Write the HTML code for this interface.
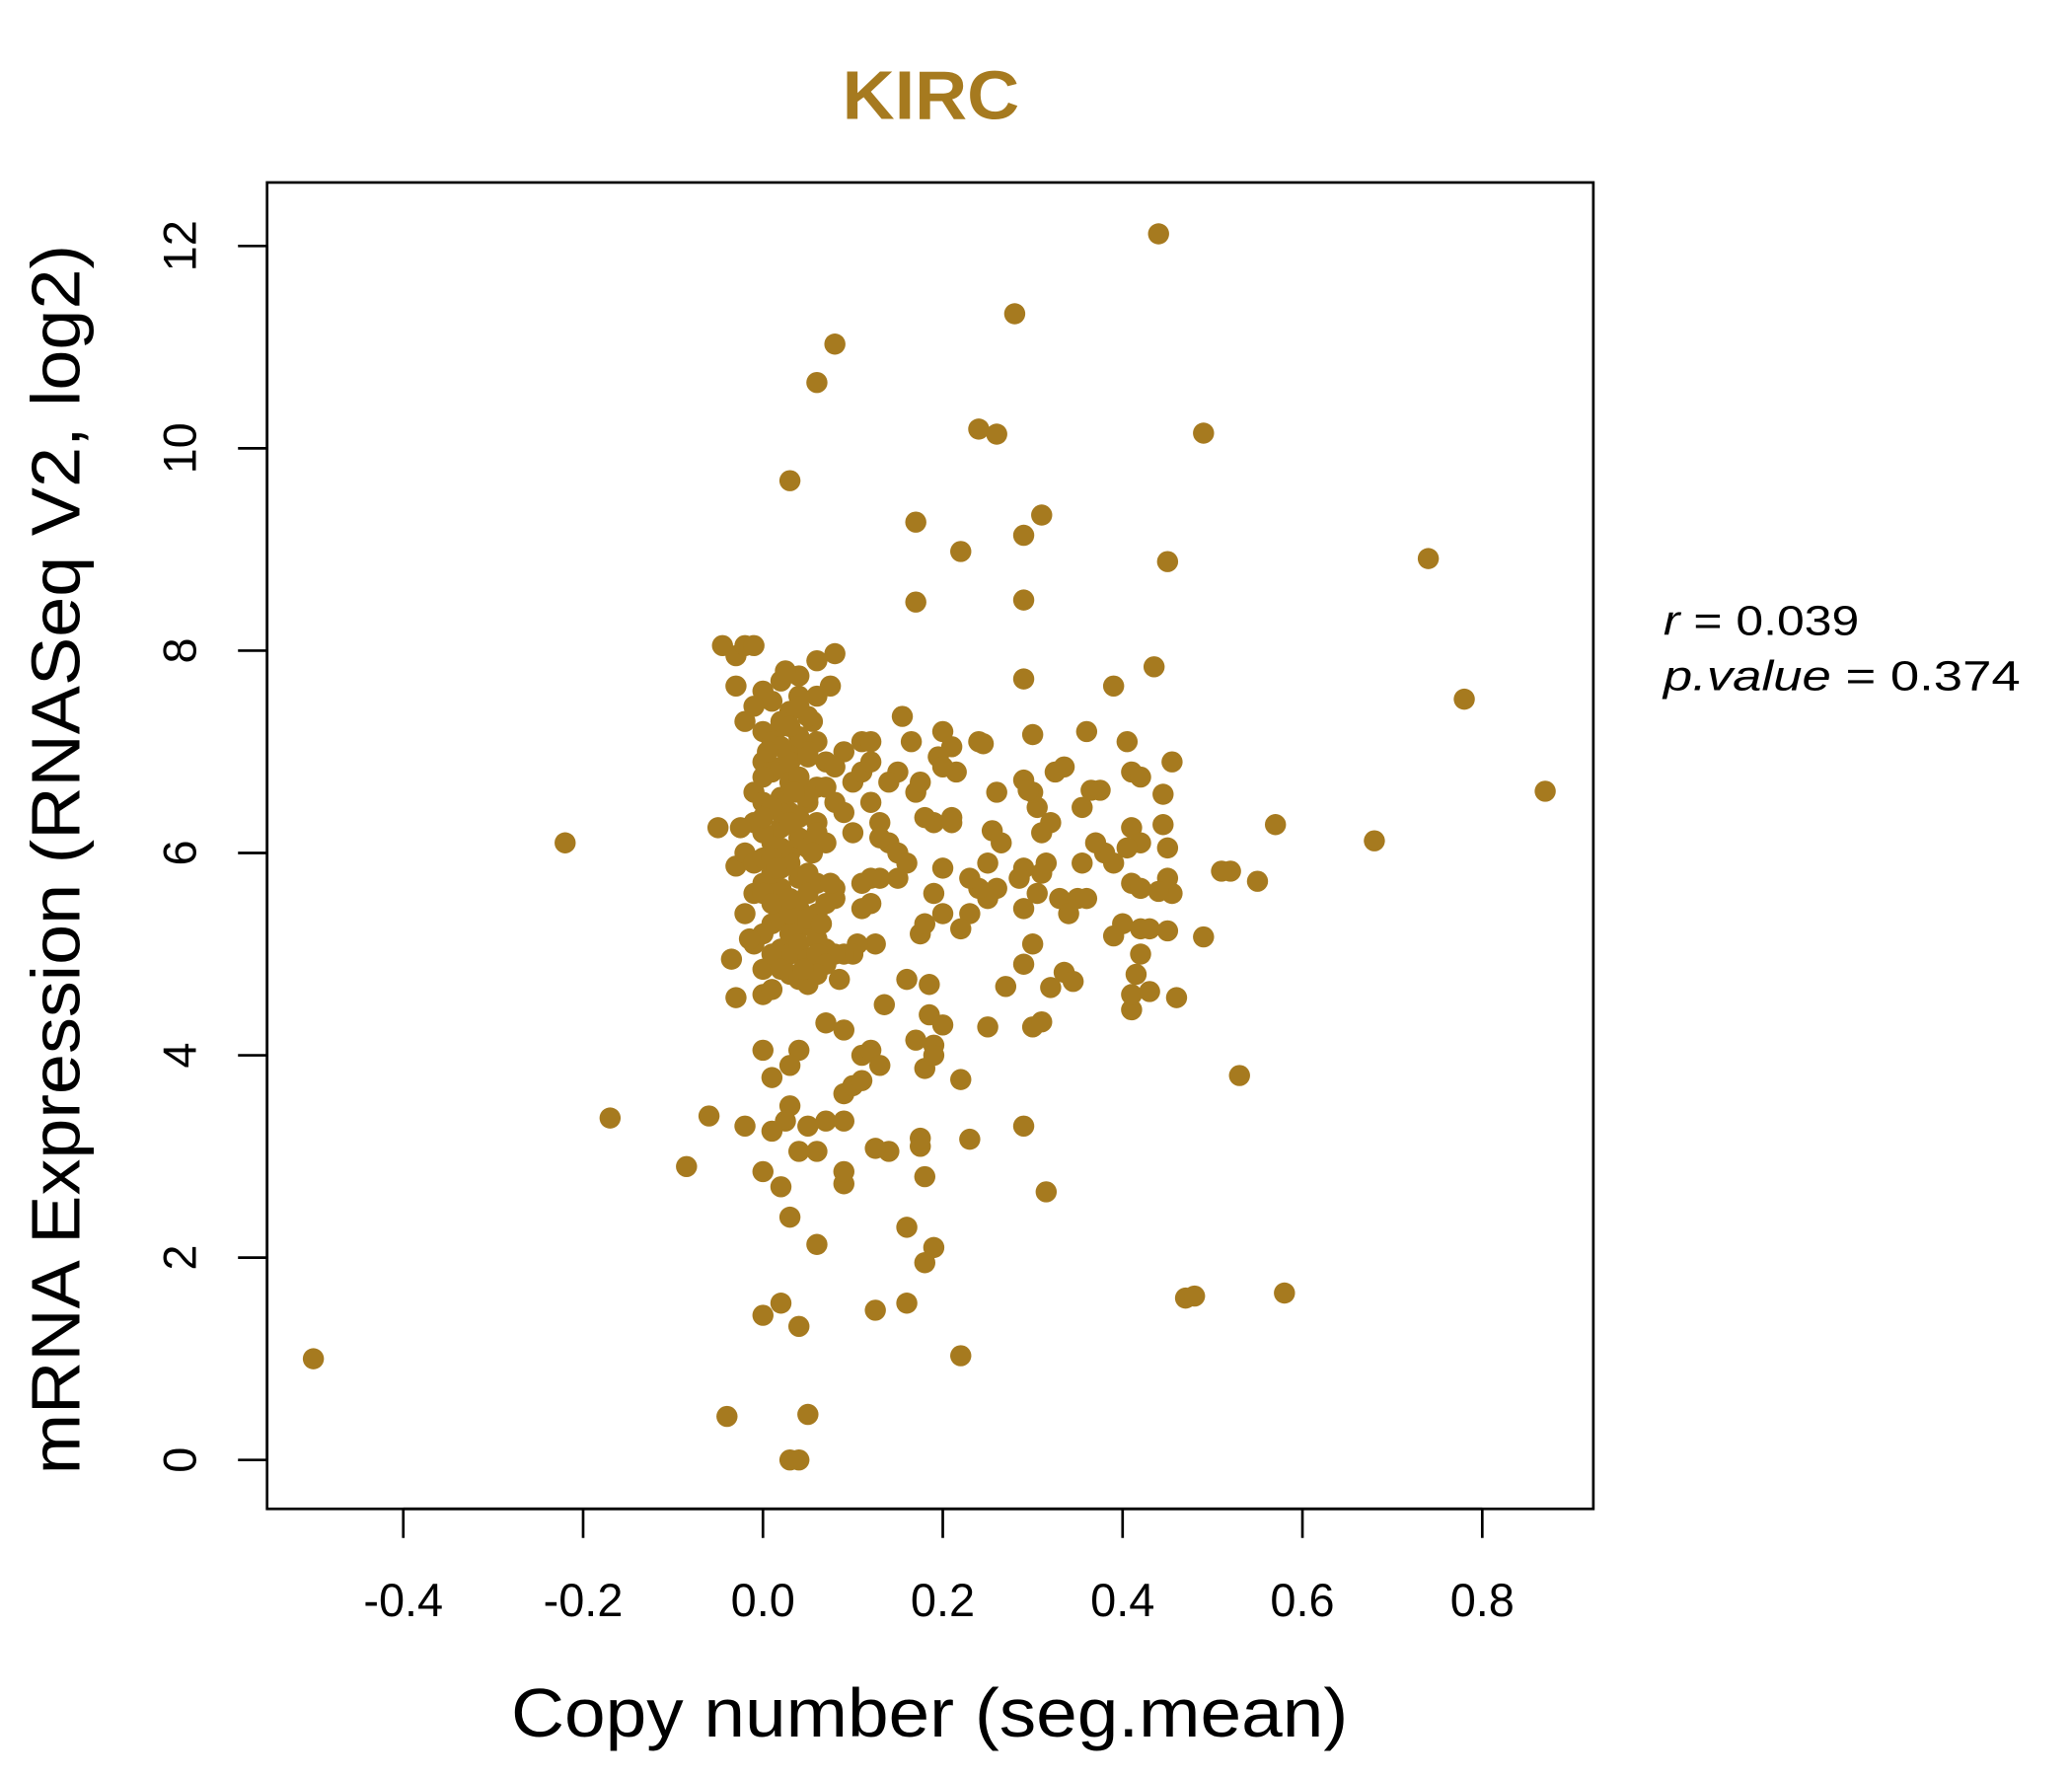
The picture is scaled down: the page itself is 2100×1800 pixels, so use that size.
<!DOCTYPE html>
<html><head><meta charset="utf-8"><style>
html,body{margin:0;padding:0;background:#fff;}
svg{display:block;}
text{font-family:"Liberation Sans",sans-serif;}
</style></head><body>
<svg id="chart" width="2100" height="1800" viewBox="0 0 1567 1343" preserveAspectRatio="none" xmlns="http://www.w3.org/2000/svg">
<rect width="1567" height="1343" fill="#fff"/>
<text x="704" y="90" text-anchor="middle" font-size="52" font-weight="bold" fill="#A67A1F" textLength="134" lengthAdjust="spacingAndGlyphs">KIRC</text>
<rect x="202" y="138" width="1003" height="1003" fill="none" stroke="#000" stroke-width="2"/>
<g id="xaxis"></g>
<g id="yaxis"></g>
<g id="points"></g>
<text x="703" y="1313" text-anchor="middle" font-size="52" textLength="633" lengthAdjust="spacingAndGlyphs">Copy number (seg.mean)</text>
<text transform="translate(60,650) rotate(-90)" text-anchor="middle" font-size="52" textLength="930" lengthAdjust="spacingAndGlyphs">mRNA Expression (RNASeq V2, log2)</text>
<text x="1258" y="480" font-size="32" textLength="148" lengthAdjust="spacingAndGlyphs"><tspan font-style="italic">r</tspan> = 0.039</text>
<text x="1258" y="522" font-size="32" textLength="270" lengthAdjust="spacingAndGlyphs"><tspan font-style="italic">p.value</tspan> = 0.374</text>
</svg>
<script>
const xTicks = [-0.4,-0.2,0.0,0.2,0.4,0.6,0.8];
const xTickLabels = ["-0.4","-0.2","0.0","0.2","0.4","0.6","0.8"];
const yTicks = [0,2,4,6,8,10,12];
const yTickLabels = ["0","2","4","6","8","10","12"];
const copyNumber = [-0.5,-0.22,-0.17,-0.085,-0.06,-0.05,-0.04,-0.035,-0.03,-0.03,-0.045,-0.03,-0.02,-0.01,-0.03,-0.02,0,0,0,0.02,0.04,0.05,0.03,0.04,0.03,0.02,0.06,0.03,0.06,0.08,0.28,0.44,0.24,0.26,0.49,0.17,0.22,0.29,0.31,0.45,0.74,0.17,0.29,0.78,0.87,0.68,0.57,0.55,0.52,0.51,0.53,0.58,0.47,0.48,0.22,0.16,0.125,0.18,0.19,0.16,0.315,0.29,0.23,0.18,0.175,0.175,0.14,0.125,0.09,0.09,0.06,0.05,0.07,0.09,0.04,0.03,0.025,0.01,0.04,0.03,0.01,0.09,0.1,0.11,0.11,0.12,0.13,0.18,0.19,0.19,0.17,0.185,0.2,0.22,0.25,0.3,0.31,0.27,0.29,0.32,0.335,0.345,0.4,0.39,0.41,0.41,0.415,0.42,0.43,0.46,0.42,0.43,0.45,0.49,0.455,0.45,0.44,0.41,0.42,0.45,0.445,0.445,0.455,0.435,0.39,0.405,0.41,0.42,0.41,0.42,0.405,0.39,0.38,0.37,0.375,0.365,0.355,0.36,0.335,0.325,0.32,0.31,0.305,0.3,0.29,0.295,0.3,0.29,0.26,0.265,0.255,0.25,0.26,0.25,0.24,0.23,0.23,0.22,0.2,0.2,0.19,0.19,0.195,0.2,0.21,0.215,0.2,0.21,0.21,0.24,0.245,0.18,0.17,0.175,0.165,0.155,0.15,0.14,0.14,0.15,0.16,0.15,0.13,0.12,0.11,0.12,0.11,0.125,0.105,0.1,0.09,0.13,0.13,0.12,0.1,0.1,0.11,0.12,0.11,0.12,0.09,0.08,0.09,0.08,0.135,0.16,0.185,0.175,0.18,0.3,0.305,0.31,0.315,0.29,0.285,0.29,0.33,0.34,0.35,0.36,0.355,0.09,0.07,0.06,0.07,0.08,0.075,0.08,0.06,0.055,
0.0,0.01,0.02,0.03,0.04,0.05,0.0,0.01,0.02,0.03,0.04,0.05,0.06,0.0,0.01,0.02,0.03,0.04,0.05,0.06,0.07,-0.01,0.0,0.01,0.02,0.03,0.04,0.05,0.06,-0.01,0.0,0.01,0.02,0.03,0.04,0.05,0.06,0.07,-0.02,-0.01,0.0,0.01,0.02,0.03,0.04,0.05,0.06,-0.01,0.0,0.01,0.02,0.03,0.04,0.05,0.06,0.07,0.08,-0.02,0.0,0.01,0.02,0.03,0.04,0.05,0.06,-0.01,0.0,0.01,0.02,0.03,0.04,0.05,0.06,0.07,0.0,0.01,0.02,0.03,0.04,0.05,0.06,0.0,0.01,0.02,0.03,0.04,0.05,0.0,0.01,0.02,0.03,0.04,0.0,0.02,0.03,0.05,-0.02,-0.01,0.02,0.04,0.01,0.03,0.05,0.07,0.0,0.02,0.04,0.06,0.08,0.01,0.03,0.05,-0.025,-0.015,0.015,0.035,0.055,0.065,0.075,0.085,0.045,0.025,0.005];
const expression = [1.0,6.1,3.38,2.9,3.4,6.25,0.43,4.95,4.57,5.87,8.05,7.95,8.05,8.05,7.65,3.3,4.05,2.85,1.43,1.55,1.32,0.45,0,0,2.4,2.7,2.13,9.68,10.65,11.03,11.33,12.12,10.19,10.14,10.15,9.27,8.98,9.14,9.34,8.88,8.91,8.48,8.5,7.52,6.61,6.12,6.28,5.72,5.82,5.82,3.8,1.65,1.6,1.62,1.03,1.55,1.48,1.95,2.1,2.3,2.65,3.3,3.17,2.8,3.1,3.18,3.05,3.08,2.73,2.85,3.05,3.3,3.35,3.35,3.05,3.5,3.35,3.25,4.05,3.9,3.78,3.62,3.7,3.75,4.0,4.05,3.9,3.87,4.1,4.0,4.15,4.4,4.3,3.76,4.28,4.28,4.33,4.68,4.9,4.67,4.82,4.73,5.3,5.18,4.45,4.6,4.8,5.0,4.63,4.57,5.25,5.25,5.23,5.17,5.6,5.75,5.62,5.7,5.65,6.05,6.28,6.58,6.9,7.84,7.65,7.1,6.8,6.75,6.25,6.1,6.05,5.9,6.0,6.1,6.62,6.62,6.45,7.2,6.85,6.8,6.3,6.2,6.45,6.6,6.72,6.62,7.17,7.72,6.6,6.1,6.22,5.9,5.65,5.55,5.65,5.75,5.4,5.25,5.4,5.85,5.6,6.3,6.95,7.2,7.05,6.8,6.85,6.3,6.35,7.1,7.08,6.35,6.6,6.7,7.1,7.35,6.8,6.7,6.1,6.0,5.9,5.75,5.75,5.75,5.7,5.5,5.45,5.1,5.1,5.0,5.0,6.3,6.15,6.5,6.2,6.7,6.8,6.9,7.1,7.1,7.0,6.5,6.4,5.65,4.5,4.75,4.7,5.2,5.3,5.1,5.6,5.8,5.9,5.85,5.75,5.45,5.55,5.4,5.55,5.55,5.9,4.25,4.32,4.8,5.05,5.0,7.65,7.97,7.55,7.3,
7.6,7.5,7.7,7.4,7.55,7.35,7.2,7.1,7.25,7.0,7.15,6.95,7.1,6.9,6.8,6.85,6.7,6.75,6.6,6.65,6.9,6.6,6.5,6.45,6.55,6.4,6.35,6.5,6.3,6.3,6.2,6.1,6.25,6.0,6.15,6.05,6.2,6.1,6.0,5.9,5.95,5.8,5.85,5.9,5.75,5.8,5.7,5.6,5.7,5.55,5.65,5.5,5.45,5.6,5.4,5.5,5.55,5.4,5.6,5.3,5.35,5.2,5.25,5.3,5.15,5.1,5.2,5.5,5.05,5.0,5.1,4.95,5.0,4.9,4.85,5.0,4.85,4.8,4.75,4.7,4.8,4.6,4.65,7.3,6.9,6.6,7.0,6.2,5.8,6.5,5.4,7.45,6.75,6.4,6.3,6.55,7.3,7.45,7.05,6.75,6.45,7.25,6.95,6.65,6.35,6.05,7.75,7.9,6.85,5.95,5.55,5.35,6.25,5.15,5.85,6.6,6.0,5.3,5.7,4.75,4.85,7.8,7.0];
const X = v => 577 + 680*v;
const Y = v => 1104 - 76.5*v;
const NS = "http://www.w3.org/2000/svg";
const xg = document.getElementById('xaxis'), yg = document.getElementById('yaxis'), pg = document.getElementById('points');
function mk(tag, attrs){const e=document.createElementNS(NS,tag);for(const k in attrs)e.setAttribute(k,attrs[k]);return e;}
xg.appendChild(mk('line',{x1:X(xTicks[0]),x2:X(xTicks[xTicks.length-1]),y1:1141,y2:1141,stroke:'#000','stroke-width':2}));
xTicks.forEach((t,i)=>{
  const l=mk('line',{x1:X(t),x2:X(t),y1:1141,y2:1163,stroke:'#000','stroke-width':2});
  
  
  xg.appendChild(l);
  const tx=mk('text',{x:X(t),y:1222,'text-anchor':'middle','font-size':35});
  tx.textContent=xTickLabels[i];
  
  
  xg.appendChild(tx);
});
yg.appendChild(mk('line',{x1:202,x2:202,y1:Y(yTicks[0]),y2:Y(yTicks[yTicks.length-1]),stroke:'#000','stroke-width':2}));
yTicks.forEach((t,i)=>{
  const l=mk('line',{x1:180,x2:202,y1:Y(t),y2:Y(t),stroke:'#000','stroke-width':2});
  
  
  yg.appendChild(l);
  const tx=mk('text',{transform:`translate(148,${Y(t)}) rotate(-90)`,'text-anchor':'middle','font-size':35});
  tx.textContent=yTickLabels[i];
  
  
  yg.appendChild(tx);
});
const n=Math.min(copyNumber.length,expression.length);
for(let i=0;i<n;i++){
  const c=mk('circle',{cx:X(copyNumber[i]),cy:Y(expression[i]),r:8,fill:'#A67A1F'});
  
  
  pg.appendChild(c);
}
</script>
</body></html>
